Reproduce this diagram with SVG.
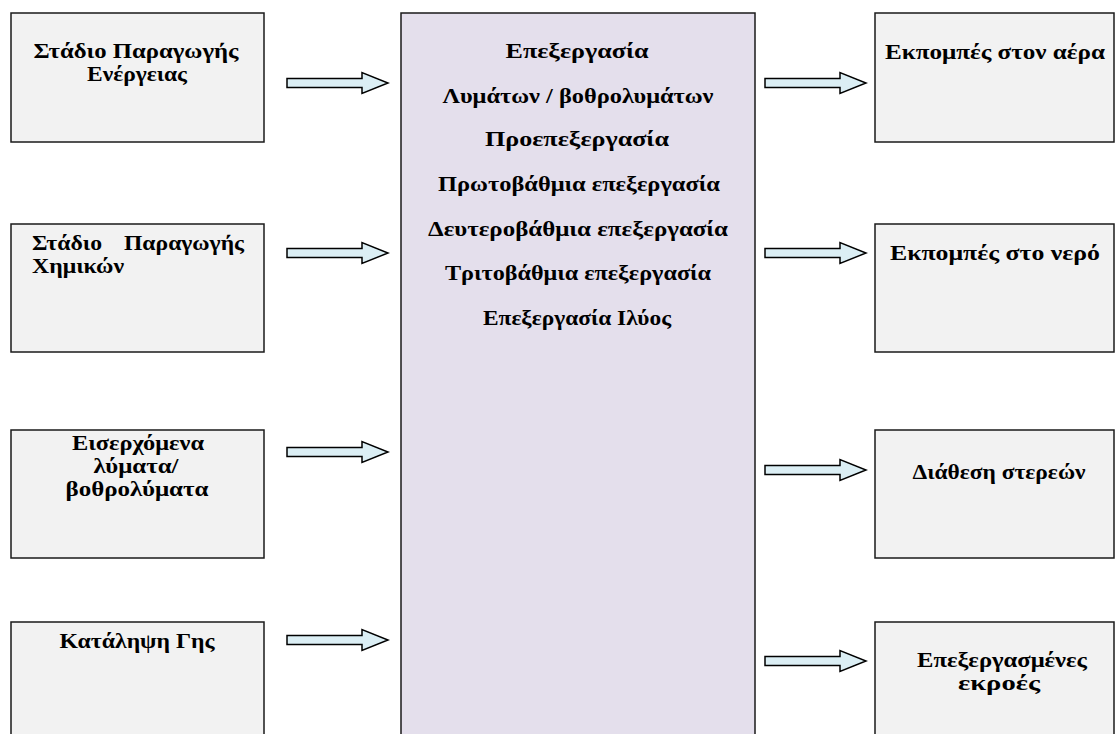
<svg xmlns="http://www.w3.org/2000/svg" xmlns:xlink="http://www.w3.org/1999/xlink" width="1115" height="734" viewBox="0 0 1115 734">
  <style>
    .box { fill: #f2f2f2; stroke: #1a1a1a; stroke-width: 1.5; }
    .core { fill: #e4dfec; stroke: #1a1a1a; stroke-width: 1.5; }
    .lbl { font-family: "Liberation Serif", "Times New Roman", serif; font-weight: bold; font-size: 20px; fill: #000; }
    .mid { text-anchor: middle; }
    .flow { fill: #dbeef4; stroke: #000; stroke-width: 1.5; stroke-linejoin: miter; }
  </style>
  <defs>
    <!-- block arrow: shaft then triangular head, pointing right, origin at tail centre -->
    <path id="blockArrow" d="M0 -4.5 H75 V-10.5 L101 0 L75 10.5 V4.5 H0 Z"/>
  </defs>

  <rect width="1115" height="734" fill="#ffffff"/>

  <!-- central treatment block -->
  <g id="treatment">
    <rect class="core" x="401" y="13" width="354" height="740"/>
    <text class="lbl mid" x="577" y="58" textLength="143" lengthAdjust="spacingAndGlyphs">Επεξεργασία</text>
    <text class="lbl mid" x="578" y="103" textLength="271" lengthAdjust="spacingAndGlyphs">Λυμάτων / βοθρολυμάτων</text>
    <text class="lbl mid" x="577" y="146" textLength="184" lengthAdjust="spacingAndGlyphs">Προεπεξεργασία</text>
    <text class="lbl mid" x="579" y="191" textLength="282" lengthAdjust="spacingAndGlyphs">Πρωτοβάθμια επεξεργασία</text>
    <text class="lbl mid" x="578" y="236" textLength="300" lengthAdjust="spacingAndGlyphs">Δευτεροβάθμια επεξεργασία</text>
    <text class="lbl mid" x="578" y="280" textLength="266" lengthAdjust="spacingAndGlyphs">Τριτοβάθμια επεξεργασία</text>
    <text class="lbl mid" x="577" y="325" textLength="188" lengthAdjust="spacingAndGlyphs">Επεξεργασία Ιλύος</text>
  </g>

  <!-- inputs -->
  <g id="energy">
    <rect class="box" x="11" y="13" width="253" height="129"/>
    <text class="lbl mid" x="136" y="58" textLength="205" lengthAdjust="spacingAndGlyphs">Στάδιο Παραγωγής</text>
    <text class="lbl mid" x="137" y="81" textLength="100" lengthAdjust="spacingAndGlyphs">Ενέργειας</text>
  </g>
  <g id="chemicals">
    <rect class="box" x="11" y="224" width="253" height="128"/>
    <text class="lbl" x="32" y="250" textLength="70" lengthAdjust="spacingAndGlyphs">Στάδιο</text>
    <text class="lbl" x="124" y="250" textLength="120" lengthAdjust="spacingAndGlyphs">Παραγωγής</text>
    <text class="lbl" x="32" y="273" textLength="92" lengthAdjust="spacingAndGlyphs">Χημικών</text>
  </g>
  <g id="influent">
    <rect class="box" x="11" y="430" width="253" height="128"/>
    <text class="lbl mid" x="138" y="450" textLength="132" lengthAdjust="spacingAndGlyphs">Εισερχόμενα</text>
    <text class="lbl mid" x="136" y="473" textLength="85" lengthAdjust="spacingAndGlyphs">λύματα/</text>
    <text class="lbl mid" x="137" y="496" textLength="143" lengthAdjust="spacingAndGlyphs">βοθρολύματα</text>
  </g>
  <g id="land">
    <rect class="box" x="11" y="622" width="253" height="130"/>
    <text class="lbl mid" x="137" y="648" textLength="155" lengthAdjust="spacingAndGlyphs">Κατάληψη Γης</text>
  </g>

  <!-- outputs -->
  <g id="air">
    <rect class="box" x="875" y="13" width="239" height="129"/>
    <text class="lbl mid" x="995" y="59" textLength="220" lengthAdjust="spacingAndGlyphs">Εκπομπές στον αέρα</text>
  </g>
  <g id="water">
    <rect class="box" x="875" y="224" width="239" height="128"/>
    <text class="lbl mid" x="995" y="260" textLength="210" lengthAdjust="spacingAndGlyphs">Εκπομπές στο νερό</text>
  </g>
  <g id="solids">
    <rect class="box" x="875" y="430" width="239" height="128"/>
    <text class="lbl mid" x="999" y="479" textLength="173" lengthAdjust="spacingAndGlyphs">Διάθεση στερεών</text>
  </g>
  <g id="effluent">
    <rect class="box" x="875" y="622" width="239" height="130"/>
    <text class="lbl mid" x="1002" y="667" textLength="170" lengthAdjust="spacingAndGlyphs">Επεξεργασμένες</text>
    <text class="lbl mid" x="999" y="690" textLength="82" lengthAdjust="spacingAndGlyphs">εκροές</text>
  </g>

  <!-- connectors -->
  <g id="connectors">
    <use class="flow" xlink:href="#blockArrow" transform="translate(287 83)"/>
    <use class="flow" xlink:href="#blockArrow" transform="translate(287 253)"/>
    <use class="flow" xlink:href="#blockArrow" transform="translate(287 452)"/>
    <use class="flow" xlink:href="#blockArrow" transform="translate(287 640)"/>
    <use class="flow" xlink:href="#blockArrow" transform="translate(765 83)"/>
    <use class="flow" xlink:href="#blockArrow" transform="translate(765 253)"/>
    <use class="flow" xlink:href="#blockArrow" transform="translate(765 470)"/>
    <use class="flow" xlink:href="#blockArrow" transform="translate(765 661)"/>
  </g>
</svg>
